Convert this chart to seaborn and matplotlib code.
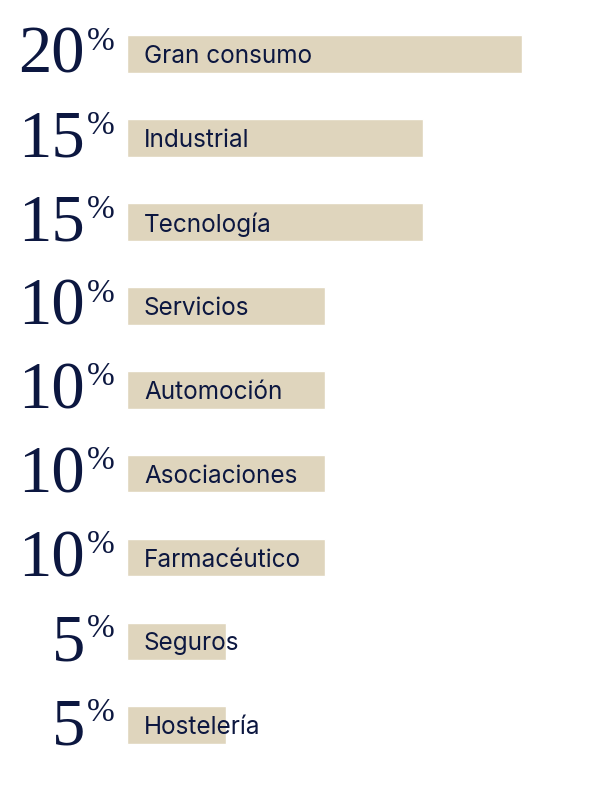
import pandas as pd
import matplotlib.pyplot as plt
import matplotlib.transforms as mtransforms
import seaborn as sns

categorias = ["Gran consumo", "Industrial", "Tecnología", "Servicios", "Automoción",
              "Asociaciones", "Farmacéutico", "Seguros", "Hostelería"]
porcentajes = [20, 15, 15, 10, 10, 10, 10, 5, 5]

beige = "#dfd5bd"
navy = "#0c1740"

df = pd.DataFrame({"sector": categorias, "pct": porcentajes})

sns.set_style("white")
plt.rcParams['font.family'] = ['Inter', 'DejaVu Sans']

fig = plt.figure(figsize=(6.05, 8), dpi=100)
ax = fig.add_axes([127 / 605, 0, 478 / 605, 1])

sns.barplot(data=df, x="pct", y="sector", color=beige, width=0.45,
            saturation=1, ax=ax, orient="h")

ax.set_xlim(0, 478 / 19.75)
ax.set_ylim(8.89, -0.644)
ax.axis("off")

serif = ["Liberation Serif"]
trans = mtransforms.blended_transform_factory(fig.transFigure, ax.transData)
for i, (cat, p) in enumerate(zip(categorias, porcentajes)):
    ax.text(0.86, i + 0.03, cat, ha="left", va="center", fontsize=17.5, color=navy)
    ax.text(85 / 605, i + 0.225, str(p), transform=trans, ha="right", va="baseline",
            fontsize=48, color=navy, family=serif)
    ax.text(115 / 605, i - 0.33, "%", transform=trans, ha="right", va="top",
            fontsize=24, color=navy, family=serif)

fig.savefig("out.png", dpi=100, facecolor="white")
